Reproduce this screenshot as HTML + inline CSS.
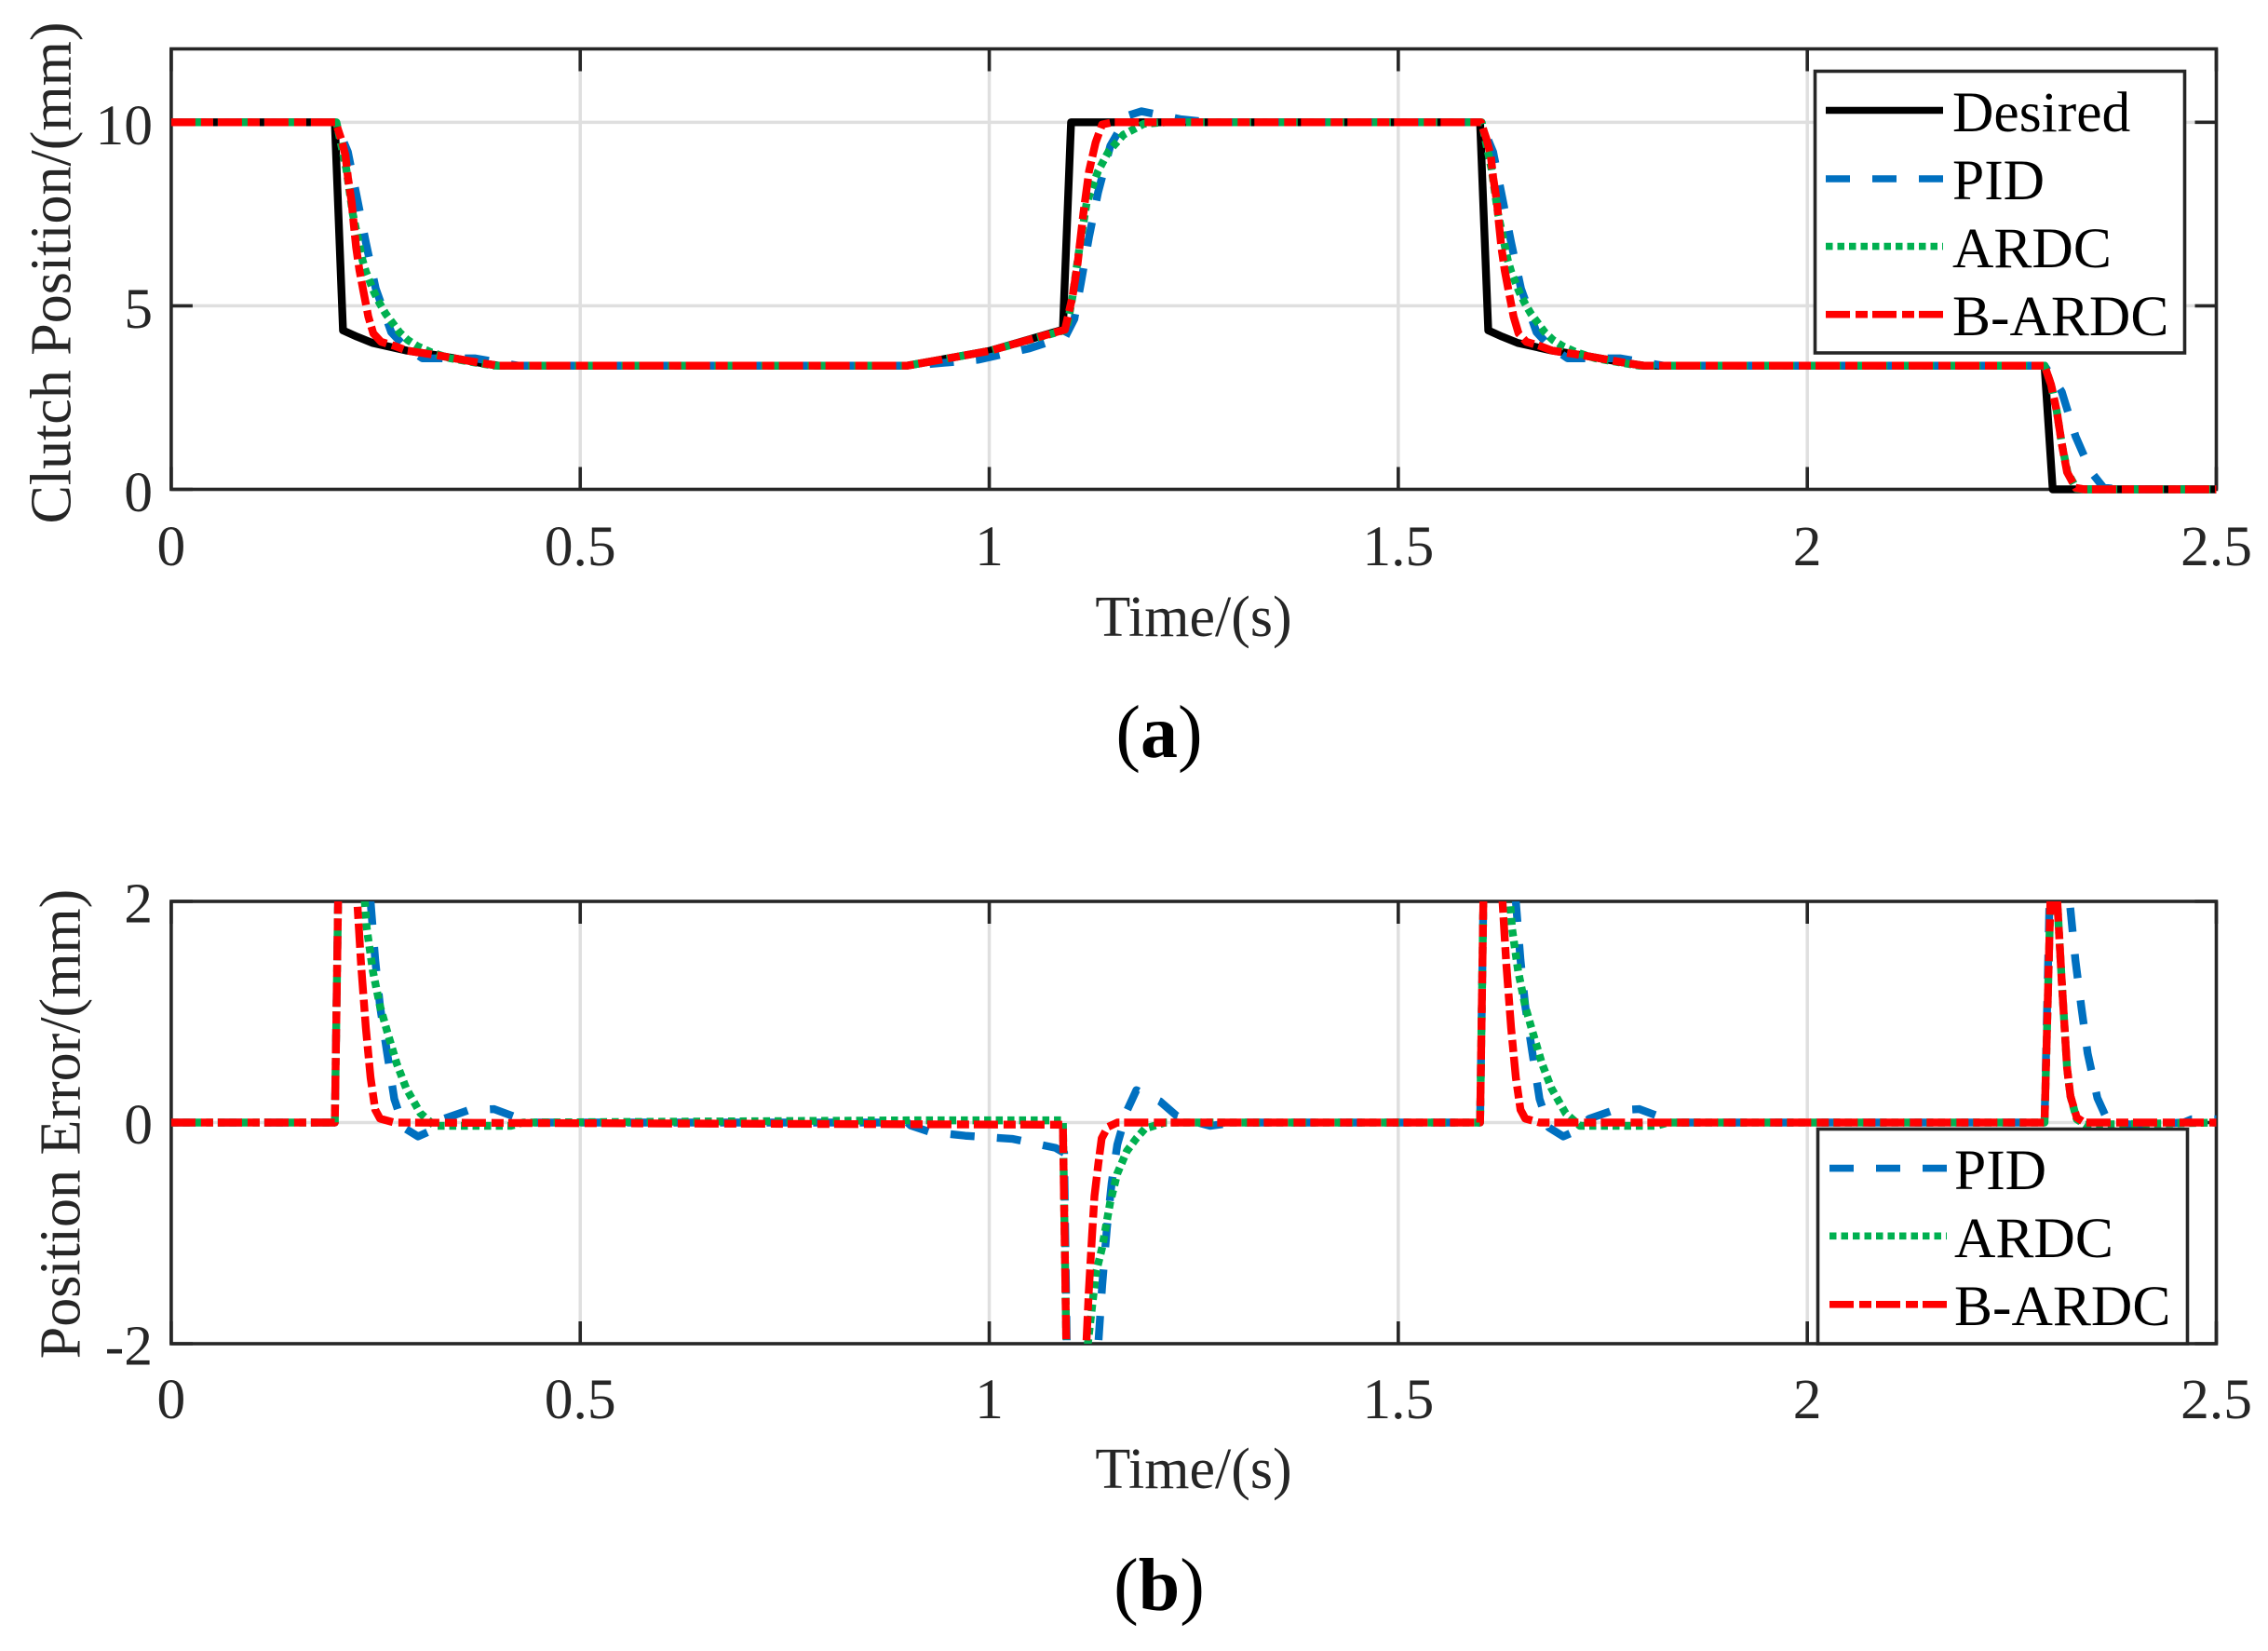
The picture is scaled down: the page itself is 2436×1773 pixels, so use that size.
<!DOCTYPE html>
<html lang="en">
<head>
<meta charset="utf-8">
<title>Clutch position tracking and error</title>
<style>
html,body{margin:0;padding:0;background:#fff;}
svg{display:block;}
text{font-family:"Liberation Serif",serif;}
.tick{font-size:61.5px;fill:#262626;}
.axis-title{font-size:62px;fill:#262626;}
.legend-text{font-size:61.5px;fill:#000;}
.caption{font-size:80px;fill:#000;}
</style>
</head>
<body>
<svg id="figure" xmlns="http://www.w3.org/2000/svg" width="2436" height="1773" viewBox="0 0 2436 1773">
<defs>
<clipPath id="clip-a"><rect x="183.9" y="52" width="2198" height="479"/></clipPath>
<clipPath id="clip-b"><rect x="183.9" y="968" width="2198" height="475"/></clipPath>
</defs>
<rect x="0" y="0" width="2436" height="1773" fill="#ffffff"/>

<g id="axes-a"></g>
<g id="lines-a" clip-path="url(#clip-a)"></g>

<g>
  <rect x="1949.5" y="76.5" width="397" height="302.5" fill="#fff" stroke="#262626" stroke-width="3.6"/>
  <line x1="1961" x2="2087" y1="118.5" y2="118.5" stroke="#000000" stroke-width="7.6"/>
  <line x1="1961" x2="2087" y1="192" y2="192" stroke="#0070C0" stroke-width="7.6" stroke-dasharray="26 24"/>
  <line x1="1961" x2="2087" y1="264.6" y2="264.6" stroke="#00B050" stroke-width="7.6" stroke-dasharray="7.5 5"/>
  <line x1="1961" x2="2087" y1="337.7" y2="337.7" stroke="#FF0000" stroke-width="7.6" stroke-dasharray="26 6 13 5"/>
  <text class="legend-text" x="2097" y="141">Desired</text>
  <text class="legend-text" x="2097" y="214">PID</text>
  <text class="legend-text" x="2097" y="287">ARDC</text>
  <text class="legend-text" x="2097" y="360">B-ARDC</text>
</g>

<text class="axis-title" x="1282" y="683" text-anchor="middle">Time/(s)</text>
<text class="axis-title" transform="translate(75.5 293) rotate(-90)" text-anchor="middle">Clutch Position/(mm)</text>
<text class="caption" x="1245" y="813" text-anchor="middle">(<tspan font-weight="bold">a</tspan>)</text>

<g id="axes-b"></g>
<g id="lines-b" clip-path="url(#clip-b)"></g>

<g>
  <rect x="1952.5" y="1212.5" width="397" height="230.5" fill="#fff" stroke="#262626" stroke-width="3.6"/>
  <line x1="1965" x2="2091" y1="1254.6" y2="1254.6" stroke="#0070C0" stroke-width="7.6" stroke-dasharray="26 24"/>
  <line x1="1965" x2="2091" y1="1327.3" y2="1327.3" stroke="#00B050" stroke-width="7.6" stroke-dasharray="7.5 5"/>
  <line x1="1965" x2="2091" y1="1400.8" y2="1400.8" stroke="#FF0000" stroke-width="7.6" stroke-dasharray="26 6 13 5"/>
  <text class="legend-text" x="2099" y="1277">PID</text>
  <text class="legend-text" x="2099" y="1350">ARDC</text>
  <text class="legend-text" x="2099" y="1423">B-ARDC</text>
</g>

<text class="axis-title" x="1282" y="1598" text-anchor="middle">Time/(s)</text>
<text class="axis-title" transform="translate(85.7 1207) rotate(-90)" text-anchor="middle">Position Error/(mm)</text>
<text class="caption" x="1245" y="1729" text-anchor="middle">(<tspan font-weight="bold">b</tspan>)</text>
</svg>

<script>
// Shared tick values
var xTicks = [0, 0.5, 1, 1.5, 2, 2.5];
var xTickLabels = ['0', '0.5', '1', '1.5', '2', '2.5'];
var yTicksA = [0, 5, 10];
var yTickLabelsA = ['0', '5', '10'];
var yTicksB = [-2, 0, 2];
var yTickLabelsB = ['-2', '0', '2'];

// Panel (a): clutch position
var desiredTimeA = [0,0.2,0.21,0.227,0.246,0.288,0.326,0.379,0.4,0.9,1.0,1.09,1.1,1.6,1.61,1.627,1.646,1.688,1.726,1.779,1.8,2.29,2.3,2.5];
var desiredPosA = [10,10,4.33,4.16,3.99,3.78,3.65,3.44,3.37,3.37,3.77,4.35,10,10,4.33,4.16,3.99,3.78,3.65,3.44,3.37,3.37,0,0];

var pidTimeA = [0,0.201,0.216,0.227,0.238,0.25,0.269,0.285,0.307,0.371,0.424,0.91,0.93,0.986,1.049,1.093,1.104,1.112,1.122,1.133,1.148,1.169,1.186,1.235,1.27,1.601,1.616,1.627,1.638,1.65,1.669,1.685,1.707,1.771,1.824,2.29,2.311,2.328,2.347,2.362,2.38,2.5];
var pidPosA = [10,10,9.19,7.96,6.72,5.47,4.28,3.9,3.57,3.57,3.37,3.37,3.42,3.53,3.84,4.16,4.64,5.62,6.88,8.09,9.36,10.18,10.3,10.08,10,10,9.19,7.96,6.72,5.47,4.28,3.9,3.57,3.57,3.37,3.37,2.66,1.44,0.47,0.05,0,0];

var ardcTimeA = [0,0.202,0.214,0.222,0.234,0.238,0.248,0.255,0.262,0.279,0.289,0.301,0.318,0.341,0.394,0.9,1.0,1.0945,1.102,1.11,1.119,1.133,1.146,1.164,1.189,1.215,1.602,1.614,1.622,1.634,1.638,1.648,1.655,1.662,1.679,1.689,1.701,1.718,1.741,1.794,2.29,2.298,2.305,2.311,2.318,2.329,2.34,2.5];
var ardcPosA = [10,10,8.73,7.5,6.23,5.93,5.37,5.06,4.79,4.28,4.07,3.9,3.73,3.57,3.37,3.37,3.77,4.35,5.28,6.54,7.8,8.67,9.21,9.66,9.96,10,10,8.73,7.5,6.23,5.93,5.37,5.06,4.79,4.28,4.07,3.9,3.73,3.57,3.37,3.37,2.85,2.12,1.25,0.47,0.02,0,0];

var bardcTimeA = [0,0.201,0.208,0.213,0.216,0.2205,0.223,0.226,0.23,0.235,0.241,0.247,0.2565,0.274,0.288,0.326,0.379,0.4,0.9,1.0,1.0925,1.102,1.108,1.115,1.122,1.13,1.138,1.151,1.601,1.608,1.613,1.616,1.6205,1.623,1.626,1.63,1.635,1.641,1.647,1.6565,1.674,1.688,1.726,1.779,1.8,2.29,2.298,2.305,2.311,2.3175,2.328,2.339,2.5];
var bardcPosA = [10,10,9.53,9.1,8.5,7.84,7.25,6.6,5.98,5.39,4.7,4.25,4.02,3.9,3.78,3.65,3.44,3.37,3.37,3.77,4.35,5.28,6.15,7.51,8.67,9.45,9.94,10,10,9.53,9.1,8.5,7.84,7.25,6.6,5.98,5.39,4.7,4.25,4.02,3.9,3.78,3.65,3.44,3.37,3.37,2.85,2.12,1.25,0.47,0.04,0,0];

// Panel (b): position error
var pidTimeB = [0,0.2,0.21,0.2437,0.2494,0.2553,0.2639,0.2727,0.2843,0.3017,0.3162,0.3336,0.3627,0.3946,0.4208,0.4353,0.9,0.9038,0.9272,0.9706,1.0288,1.081,1.0915,1.1,1.1333,1.138,1.1438,1.1496,1.1565,1.1682,1.1798,1.2088,1.2292,1.2553,1.27,1.3,1.6,1.61,1.6437,1.6494,1.6553,1.6639,1.6727,1.6843,1.7017,1.7162,1.7336,1.7627,1.7946,1.8208,1.8353,2.29,2.3,2.311,2.3207,2.3278,2.335,2.3427,2.3546,2.3682,2.4,2.46,2.47,2.5];
var pidErrB = [0,0,5.1,2,1.47,1.05,0.632,0.213,-0.046,-0.126,-0.078,0.035,0.11,0.122,0.05,0,0,-0.026,-0.084,-0.119,-0.148,-0.229,-0.273,-4.8,-2,-1.478,-0.955,-0.549,-0.2,0.105,0.293,0.191,0.06,0,-0.03,0,0,5,2,1.47,1.05,0.632,0.213,-0.046,-0.126,-0.078,0.035,0.11,0.122,0.05,0,0,3.3,2.66,2,1.465,1.045,0.626,0.222,0,-0.02,0,0.03,0.03];

var ardcTimeB = [0,0.2,0.21,0.2366,0.239,0.2465,0.2553,0.2639,0.2756,0.2872,0.3046,0.3221,0.3712,0.415,0.43,0.9,1.09,1.1,1.1205,1.1304,1.138,1.1478,1.1565,1.1682,1.1798,1.1903,1.2148,1.6,1.61,1.6366,1.639,1.6465,1.6553,1.6639,1.6756,1.6872,1.7046,1.7221,1.7712,1.815,1.83,2.29,2.3,2.3056,2.3111,2.3175,2.3217,2.3294,2.34,2.5];
var ardcErrB = [0,0,5,2,1.76,1.37,1.05,0.826,0.535,0.31,0.084,-0.03,-0.03,-0.03,0,0.02,0.02,-4.8,-2,-1.36,-1.13,-0.723,-0.461,-0.258,-0.143,-0.055,0,0,5,2,1.76,1.37,1.05,0.826,0.535,0.31,0.084,-0.03,-0.03,-0.03,0,0,2.8,2,1.27,0.496,0.238,0.03,-0.02,0];

var bardcTimeB = [0,0.2,0.21,0.213,0.2205,0.2274,0.232,0.2379,0.2437,0.2494,0.2553,0.2727,1.09,1.1,1.1187,1.1216,1.1257,1.1286,1.1333,1.1374,1.1449,1.1565,1.6,1.61,1.613,1.6205,1.6274,1.632,1.6379,1.6437,1.6494,1.6553,1.6727,2.29,2.3,2.302,2.3056,2.3111,2.3175,2.3217,2.3294,2.3387,2.5];
var bardcErrB = [0,0,5,4.8,3.6,2,1.44,0.858,0.406,0.116,0.035,0,-0.02,-4.8,-2,-1.536,-1.013,-0.665,-0.374,-0.143,-0.04,0,0,5,4.8,3.6,2,1.44,0.858,0.406,0.116,0.035,0,0,2.8,2.6,2,1.27,0.496,0.238,0.045,0,0];

// Axis functions
var plotLeft = 183.9;
var plotRight = 2380.5;
var aTop = 52.5;
var aBottom = 525.5;
var bTop = 968;
var bBottom = 1443;
function xScale(t) { return plotLeft + (plotRight - plotLeft) * t / 2.5; }
function yScaleA(v) { return aBottom - (aBottom - aTop) * v / 12; }
function yScaleB(v) { return bBottom - (bBottom - bTop) * (v + 2) / 4; }

var NS = 'http://www.w3.org/2000/svg';

function makeLine(parent, x1, y1, x2, y2, color, width) {
  var el = document.createElementNS(NS, 'line');
  el.setAttribute('x1', x1);
  el.setAttribute('y1', y1);
  el.setAttribute('x2', x2);
  el.setAttribute('y2', y2);
  el.setAttribute('stroke', color);
  el.setAttribute('stroke-width', width);
  parent.appendChild(el);
  return el;
}

function makeLabel(parent, x, y, anchor, str) {
  var el = document.createElementNS(NS, 'text');
  el.setAttribute('class', 'tick');
  el.setAttribute('x', x);
  el.setAttribute('y', y);
  el.setAttribute('text-anchor', anchor);
  el.textContent = str;
  parent.appendChild(el);
  return el;
}

function drawAxes(parent, top, bottom, yTicks, yLabels, yScale, xBaseline, yOffset) {
  var i, el;
  for (i = 1; i < xTicks.length - 1; i++) {
    el = makeLine(parent, xScale(xTicks[i]), top, xScale(xTicks[i]), bottom, '#dfdfdf', 3.5);
    
    
  }
  for (i = 0; i < yTicks.length; i++) {
    if (yScale(yTicks[i]) > top + 2 && yScale(yTicks[i]) < bottom - 2) {
      el = makeLine(parent, plotLeft, yScale(yTicks[i]), plotRight, yScale(yTicks[i]), '#dfdfdf', 3.5);
      
      
    }
  }
  var box = document.createElementNS(NS, 'rect');
  box.setAttribute('x', plotLeft);
  box.setAttribute('y', top);
  box.setAttribute('width', plotRight - plotLeft);
  box.setAttribute('height', bottom - top);
  box.setAttribute('fill', 'none');
  box.setAttribute('stroke', '#262626');
  box.setAttribute('stroke-width', 3.6);
  
  
  parent.appendChild(box);
  for (i = 0; i < xTicks.length; i++) {
    var px = xScale(xTicks[i]);
    el = makeLine(parent, px, bottom, px, bottom - 24, '#262626', 3.6);
    
    
    el = makeLine(parent, px, top, px, top + 24, '#262626', 3.6);
    
    
    el = makeLabel(parent, px, xBaseline, 'middle', xTickLabels[i]);
    
    
  }
  for (i = 0; i < yTicks.length; i++) {
    var py = yScale(yTicks[i]);
    el = makeLine(parent, plotLeft, py, plotLeft + 23, py, '#262626', 3.6);
    
    
    el = makeLine(parent, plotRight, py, plotRight - 23, py, '#262626', 3.6);
    
    
    el = makeLabel(parent, 164, py + yOffset, 'end', yLabels[i]);
    
    
  }
}

function drawSeries(parent, times, values, yScale, color, dash) {
  var d = '';
  for (var i = 0; i < times.length; i++) {
    d += (i === 0 ? 'M' : 'L') + xScale(times[i]).toFixed(2) + ' ' + yScale(values[i]).toFixed(2);
  }
  var el = document.createElementNS(NS, 'path');
  el.setAttribute('d', d);
  el.setAttribute('fill', 'none');
  el.setAttribute('stroke', color);
  el.setAttribute('stroke-width', 8.4);
  el.setAttribute('stroke-linejoin', 'round');
  if (dash) { el.setAttribute('stroke-dasharray', dash); }
  parent.appendChild(el);
  return el;
}

var axesA = document.getElementById('axes-a');
var axesB = document.getElementById('axes-b');
var linesA = document.getElementById('lines-a');
var linesB = document.getElementById('lines-b');

drawAxes(axesA, aTop, aBottom, yTicksA, yTickLabelsA, yScaleA, 607, 23.5);
drawAxes(axesB, bTop, bBottom, yTicksB, yTickLabelsB, yScaleB, 1523, 22.5);

var lineDesiredA = drawSeries(linesA, desiredTimeA, desiredPosA, yScaleA, '#000000', '');


var linePidA = drawSeries(linesA, pidTimeA, pidPosA, yScaleA, '#0070C0', '26 24');


var lineArdcA = drawSeries(linesA, ardcTimeA, ardcPosA, yScaleA, '#00B050', '7.5 5');


var lineBardcA = drawSeries(linesA, bardcTimeA, bardcPosA, yScaleA, '#FF0000', '26 6 13 5');



var linePidB = drawSeries(linesB, pidTimeB, pidErrB, yScaleB, '#0070C0', '26 24');


var lineArdcB = drawSeries(linesB, ardcTimeB, ardcErrB, yScaleB, '#00B050', '7.5 5');


var lineBardcB = drawSeries(linesB, bardcTimeB, bardcErrB, yScaleB, '#FF0000', '26 6 13 5');


</script>
</body>
</html>
